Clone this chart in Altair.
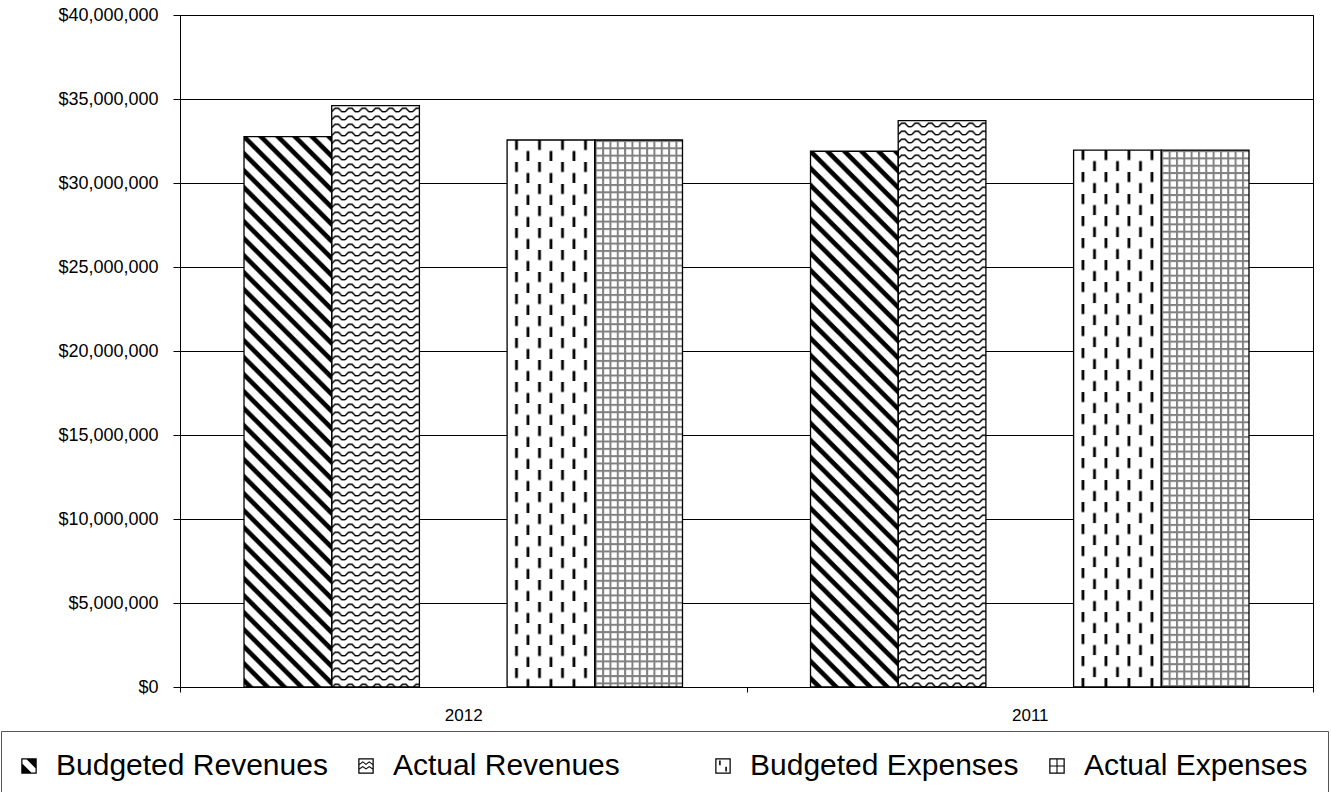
import base64
import re

import altair as alt
import pandas as pd

# ---- data -------------------------------------------------------------
years = ["2012", "2011"]
series_names = ["Budgeted Revenues", "Actual Revenues", "Budgeted Expenses", "Actual Expenses"]
budgeted_revenues = [32_760_000, 31_890_000]
actual_revenues = [34_600_000, 33_710_000]
budgeted_expenses = [32_560_000, 31_960_000]
actual_expenses = [32_560_000, 31_960_000]
y_ticks = [0, 5_000_000, 10_000_000, 15_000_000, 20_000_000,
           25_000_000, 30_000_000, 35_000_000, 40_000_000]

# an empty slot sits between the revenue pair and the expense pair
GAP = ""
slot_order = series_names[:2] + [GAP] + series_names[2:]

values_by_series = dict(zip(series_names, [budgeted_revenues, actual_revenues,
                                           budgeted_expenses, actual_expenses]))


# ---- hatch fills (tiled SVG patterns used as images) -------------------
def hatch(w, h, body):
    svg = ("<svg xmlns='http://www.w3.org/2000/svg' width='100%' height='100%'>"
           f"<defs><pattern id='p' patternUnits='userSpaceOnUse' width='{w}' height='{h}'>"
           f"{body}</pattern></defs>"
           "<rect width='100%' height='100%' fill='white'/>"
           "<rect width='100%' height='100%' fill='url(#p)'/></svg>")
    return "data:image/svg+xml;base64," + base64.b64encode(svg.encode()).decode()


hatches = {
    "Budgeted Revenues": hatch(
        17, 17,
        "<path d='M-4,-4 L21,21 M-4,13 L4,21 M13,-4 L21,4' stroke='black' stroke-width='4.6'/>"),
    "Actual Revenues": hatch(
        13.5, 8,
        "<path d='M0,6 L3.4,2.6 L6.75,2.6 L10.1,6 L13.5,6' fill='none' stroke='black' stroke-width='1.5'/>"),
    "Budgeted Expenses": hatch(
        23, 22,
        "<rect x='8' y='0' width='2.8' height='10' fill='black'/>"
        "<rect x='19.5' y='11' width='2.8' height='10' fill='black'/>"),
    "Actual Expenses": hatch(
        7.33, 7.33,
        "<rect x='0' y='0' width='2' height='7.33' fill='#808080'/>"
        "<rect x='0' y='0' width='7.33' height='2' fill='#808080'/>"),
}


# legend swatches as filled paths around the symbol centre
def scaled(path, k=1.55):
    return re.sub(r"-?\d+(?:\.\d+)?", lambda m: f"{float(m.group()) * k:.3f}", path)


RING = "M-1,-1H1V1H-1Z M-0.84,-0.84V0.84H0.84V-0.84Z "
swatches = [scaled(p) for p in [
    RING + "M-0.45,-1L1,-1L1,0.45Z M-1,-0.45L0.45,1L-1,1Z",
    RING + "M-0.84,-0.3L-0.42,-0.6L0,-0.3L0.42,-0.6L0.84,-0.3L0.84,-0.14L0.42,-0.44L0,-0.14L-0.42,-0.44L-0.84,-0.14Z "
           "M-0.84,0.3L-0.42,0L0,0.3L0.42,0L0.84,0.3L0.84,0.46L0.42,0.16L0,0.46L-0.42,0.16L-0.84,0.46Z",
    "M0,0Z",
    RING + "M-0.5,-0.7H-0.3V-0.1H-0.5Z M0.3,0.1H0.5V0.7H0.3Z",
    RING + "M-0.07,-1H0.07V1H-0.07Z M-1,-0.07H1V0.07H-1Z",
]]

rows = []
for name in series_names:
    for year, val in zip(years, values_by_series[name]):
        rows.append({"year": year, "series": name, "value": val, "hatch": hatches[name]})
df = pd.DataFrame(rows)

# ---- encodings ---------------------------------------------------------
x_enc = alt.X(
    "year:N",
    sort=years,
    scale=alt.Scale(domain=years, paddingInner=0, paddingOuter=0),
    axis=alt.Axis(title=None, tickBand="extent", tickSize=5, labelPadding=15,
                  labelFontSize=17, labelAngle=0, grid=False,
                  domainColor="black", tickColor="black"),
)
xo_enc = alt.XOffset(
    "series:N",
    scale=alt.Scale(domain=slot_order, paddingInner=0, paddingOuter=0.73),
)
y_enc = alt.Y(
    "value:Q",
    scale=alt.Scale(domain=[0, 40_000_000], nice=False),
    axis=alt.Axis(title=None, values=y_ticks, format="$,.0f", tickSize=7,
                  labelPadding=15, labelFontSize=18, grid=True,
                  gridColor="black", gridWidth=1,
                  domainColor="black", tickColor="black"),
)

base = alt.Chart(df)

fills = base.mark_image(aspect=False).encode(
    x=x_enc, xOffset=xo_enc, y=y_enc, y2=alt.datum(0),
    url=alt.Url("hatch:N"),
)

outlines = base.mark_bar(fill="transparent", stroke="black", strokeWidth=1.3).encode(
    x=x_enc, xOffset=xo_enc, y=y_enc, y2=alt.datum(0),
)

legend_keys = base.mark_point(filled=True, color="black", opacity=0, size=100).encode(
    x=x_enc, xOffset=xo_enc, y=y_enc,
    shape=alt.Shape(
        "series:N",
        scale=alt.Scale(domain=slot_order, range=swatches),
        legend=alt.Legend(
            title=None, orient="none", legendX=-179, legendY=716,
            direction="horizontal", columns=5,
            labelFont="Liberation Sans", labelFontSize=30, labelColor="black",
            labelLimit=600, labelOffset=12, symbolOffset=-7,
            symbolSize=100, symbolFillColor="black", symbolStrokeWidth=0,
            symbolOpacity=1, columnPadding=30, padding=20,
            strokeColor="#555555", fillColor="white",
        ),
    ),
)

chart = (
    alt.layer(fills, outlines, legend_keys)
    .properties(
        width=1133,
        height=672,
        autosize=alt.AutoSizeParams(type="none"),
        padding={"left": 180, "top": 15, "right": 18, "bottom": 105},
        background="white",
    )
    .configure_view(stroke="black", strokeWidth=1)
    .configure_axis(labelFont="Liberation Sans", labelColor="black")
)

chart.save("out.html", embed_options={"renderer": "svg", "actions": False})
